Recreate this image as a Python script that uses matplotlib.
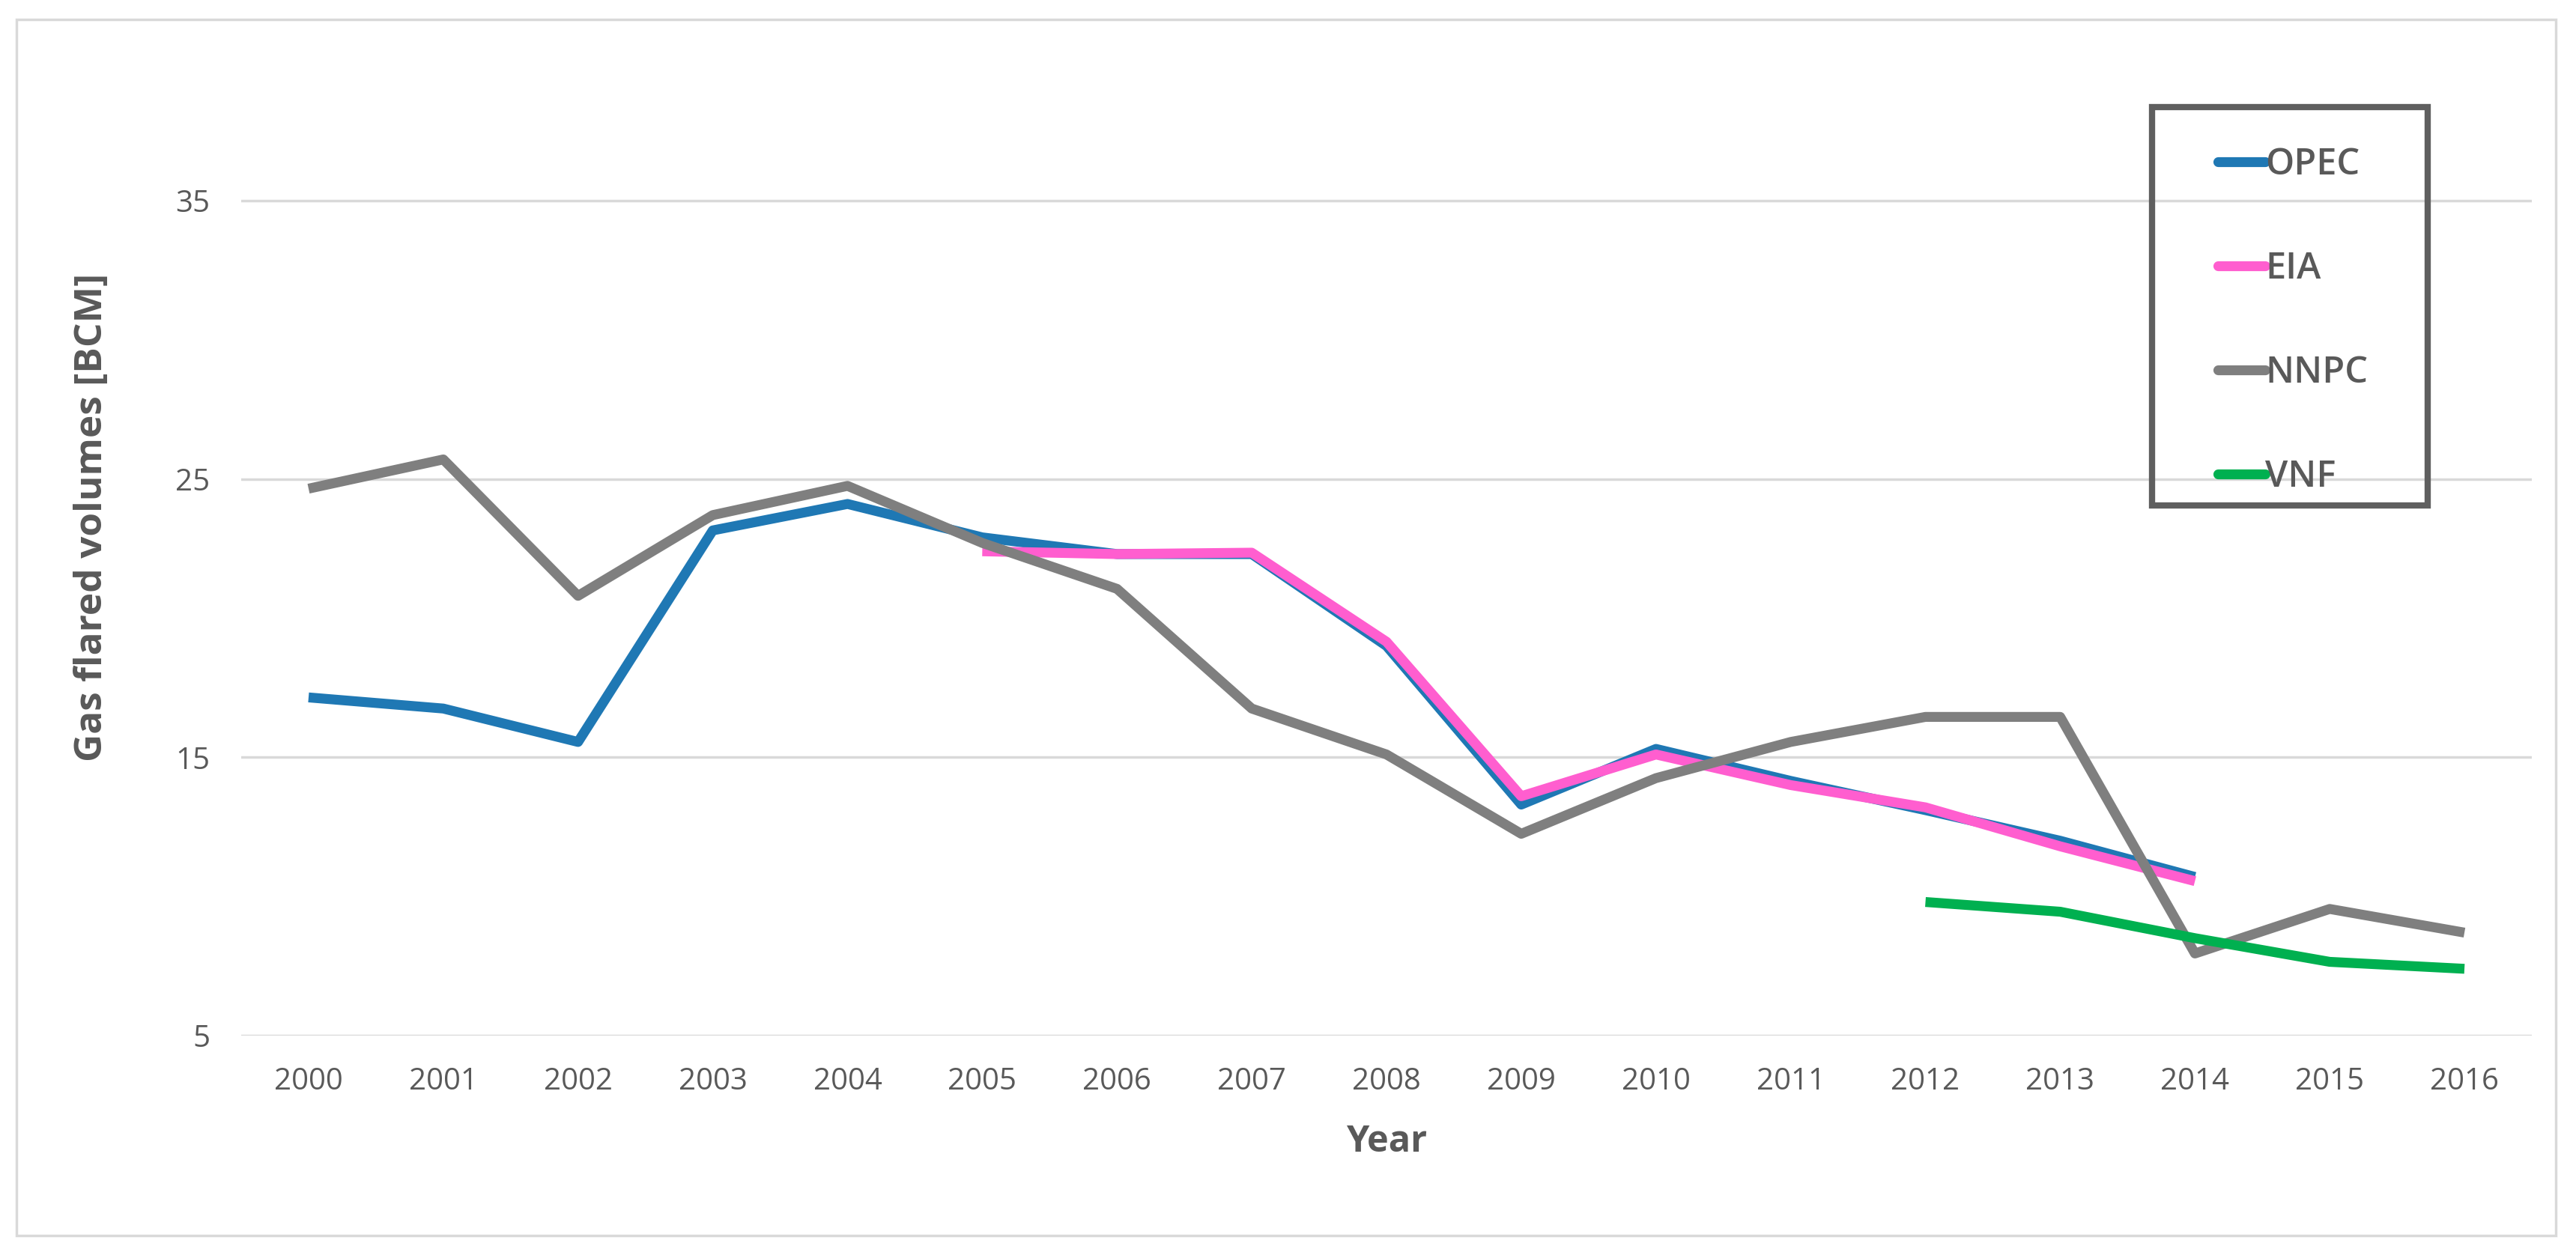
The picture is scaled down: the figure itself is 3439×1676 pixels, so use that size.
import numpy as np
import matplotlib.pyplot as plt
from matplotlib.patches import Rectangle

# data
years = [str(y) for y in range(2000, 2017)]
opec = [17.15, 16.75, 15.55, 23.15, 24.1, 22.9, 22.3, 22.3, 19.0, 13.3,
        15.3, 14.15, 13.1, 12.0, 10.7]
eia = [22.4, 22.3, 22.35, 19.15, 13.6, 15.1, 14.0, 13.2, 11.8, 10.55]
nnpc = [24.65, 25.7, 20.8, 23.7, 24.75, 22.7, 21.05, 16.75, 15.1, 12.25,
        14.25, 15.55, 16.45, 16.45, 7.95, 9.55, 8.7]
vnf = [9.8, 9.45, 8.5, 7.65, 7.4]

x = np.arange(len(years))
txt = '#595959'

plt.rcParams['font.family'] = ['Open Sans', 'DejaVu Sans']

W, H = 3439, 1676
fig = plt.figure(figsize=(W / 100, H / 100), dpi=100)
ax = fig.add_axes([322 / W, 1 - 1383 / H, (3380 - 322) / W, (1383 - 82) / H])

lw = 9.5
ax.plot(x[:15], opec, color='#1F78B4', lw=lw, label='OPEC', solid_capstyle='butt')
ax.plot(x[5:15], eia, color='#FF5ECF', lw=lw, label='EIA', solid_capstyle='butt')
ax.plot(x, nnpc, color='#7F7F7F', lw=lw, label='NNPC', solid_capstyle='butt')
ax.plot(x[12:], vnf, color='#00B050', lw=lw, label='VNF', solid_capstyle='butt')

ax.set_xlim(-0.5, 16.5)
ax.set_ylim(5, 40)
ax.set_yticks([5, 15, 25, 35])
ax.set_xticks(x)
ax.set_xticklabels(years)
ax.grid(axis='y', color='#D9D9D9', lw=2.5)
ax.set_axisbelow(True)
for s in ax.spines.values():
    s.set_visible(False)
ax.tick_params(length=0, labelsize=29, labelcolor=txt)
ax.tick_params(axis='y', pad=30)
ax.tick_params(axis='x', pad=30)

ax.set_xlabel('Year', fontsize=35, fontweight='bold', color=txt, labelpad=26)
ax.set_ylabel('Gas flared volumes [BCM]', fontsize=37, fontweight='bold', color=txt)
ax.yaxis.set_label_coords(-0.057, 0.532)

# legend without its own frame; box drawn separately
leg = ax.legend(loc='upper left', bbox_to_anchor=(2961 / W, 1 - 196 / H),
                bbox_transform=fig.transFigure, fontsize=35, frameon=False,
                handlelength=1.3, handletextpad=0.0,
                labelspacing=1.85, borderpad=0, borderaxespad=0)
for t in leg.get_texts():
    t.set_color(txt)
    t.set_fontweight('semibold')
for h in leg.get_lines():
    h.set_solid_capstyle('round')

fig.patches.append(Rectangle((2873 / W, 1 - 675 / H), (3241 - 2873) / W, (675 - 143) / H,
                             transform=fig.transFigure, fill=False,
                             edgecolor='#5F5F5F', lw=6, zorder=5))

# outer chart frame
fig.patches.append(Rectangle((22 / W, 26 / H), (3412 - 22) / W, (1650 - 26) / H,
                             transform=fig.transFigure, fill=False,
                             edgecolor='#D9D9D9', lw=2.5))

fig.savefig('out.png', dpi=100)
